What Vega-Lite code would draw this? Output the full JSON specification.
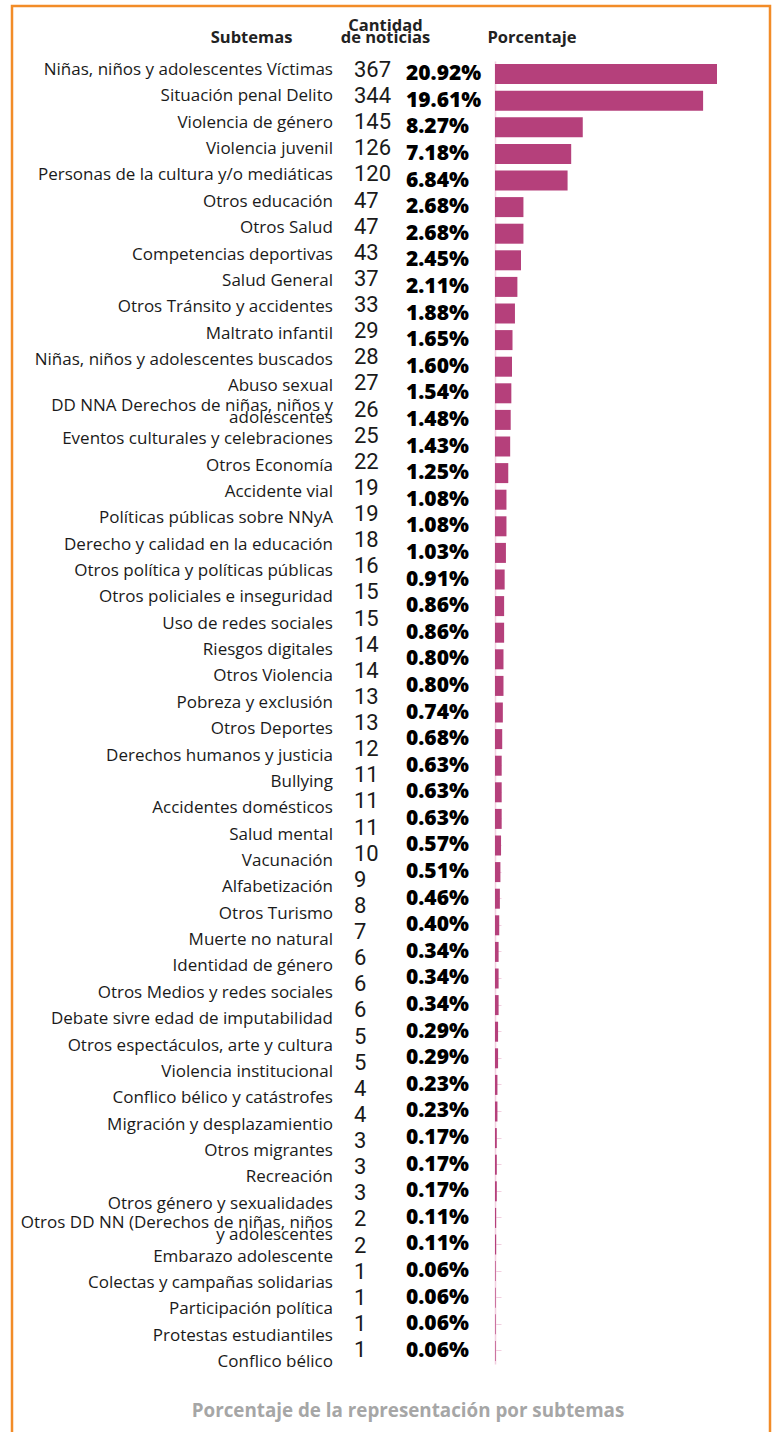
{
  "$schema": "https://vega.github.io/schema/vega-lite/v6.json",
  "autosize": "none",
  "width": 758,
  "height": 1432,
  "padding": {"left": 12, "top": 6, "right": 6, "bottom": -6},
  "background": "white",
  "config": {"view": {"stroke": "#f28c28", "strokeWidth": 2.5}, "font": "Open Sans"},
  "title": {"text": "Porcentaje de la representación por subtemas", "orient": "bottom", "frame": "group", "anchor": "middle", "offset": -27, "dx": 17, "baseline": "middle", "fontSize": 18.8, "fontWeight": "bold", "color": "#a6a6a6", "font": "Open Sans"},
  "datasets": {
    "subtemas": [
      {"orden": 1, "subtema": "Niñas, niños y adolescentes Víctimas", "cantidad": 367},
      {"orden": 2, "subtema": "Situación penal Delito", "cantidad": 344},
      {"orden": 3, "subtema": "Violencia de género", "cantidad": 145},
      {"orden": 4, "subtema": "Violencia juvenil", "cantidad": 126},
      {"orden": 5, "subtema": "Personas de la cultura y/o mediáticas", "cantidad": 120},
      {"orden": 6, "subtema": "Otros educación", "cantidad": 47},
      {"orden": 7, "subtema": "Otros Salud", "cantidad": 47},
      {"orden": 8, "subtema": "Competencias deportivas", "cantidad": 43},
      {"orden": 9, "subtema": "Salud General", "cantidad": 37},
      {"orden": 10, "subtema": "Otros Tránsito y accidentes", "cantidad": 33},
      {"orden": 11, "subtema": "Maltrato infantil", "cantidad": 29},
      {"orden": 12, "subtema": "Niñas, niños y adolescentes buscados", "cantidad": 28},
      {"orden": 13, "subtema": "Abuso sexual", "cantidad": 27},
      {"orden": 14, "subtema": "DD NNA Derechos de niñas, niños y\nadolescentes", "cantidad": 26},
      {"orden": 15, "subtema": "Eventos culturales y celebraciones", "cantidad": 25},
      {"orden": 16, "subtema": "Otros Economía", "cantidad": 22},
      {"orden": 17, "subtema": "Accidente vial", "cantidad": 19},
      {"orden": 18, "subtema": "Políticas públicas sobre NNyA", "cantidad": 19},
      {"orden": 19, "subtema": "Derecho y calidad en la educación", "cantidad": 18},
      {"orden": 20, "subtema": "Otros política y políticas públicas", "cantidad": 16},
      {"orden": 21, "subtema": "Otros policiales e inseguridad", "cantidad": 15},
      {"orden": 22, "subtema": "Uso de redes sociales", "cantidad": 15},
      {"orden": 23, "subtema": "Riesgos digitales", "cantidad": 14},
      {"orden": 24, "subtema": "Otros Violencia", "cantidad": 14},
      {"orden": 25, "subtema": "Pobreza y exclusión", "cantidad": 13},
      {"orden": 26, "subtema": "Otros Deportes", "cantidad": 13},
      {"orden": 27, "subtema": "Derechos humanos y justicia", "cantidad": 12},
      {"orden": 28, "subtema": "Bullying", "cantidad": 11},
      {"orden": 29, "subtema": "Accidentes domésticos", "cantidad": 11},
      {"orden": 30, "subtema": "Salud mental", "cantidad": 11},
      {"orden": 31, "subtema": "Vacunación", "cantidad": 10},
      {"orden": 32, "subtema": "Alfabetización", "cantidad": 9},
      {"orden": 33, "subtema": "Otros Turismo", "cantidad": 8},
      {"orden": 34, "subtema": "Muerte no natural", "cantidad": 7},
      {"orden": 35, "subtema": "Identidad de género", "cantidad": 6},
      {"orden": 36, "subtema": "Otros Medios y redes sociales", "cantidad": 6},
      {"orden": 37, "subtema": "Debate sivre edad de imputabilidad", "cantidad": 6},
      {"orden": 38, "subtema": "Otros espectáculos, arte y cultura", "cantidad": 5},
      {"orden": 39, "subtema": "Violencia institucional", "cantidad": 5},
      {"orden": 40, "subtema": "Conflico bélico y catástrofes", "cantidad": 4},
      {"orden": 41, "subtema": "Migración y desplazamientio", "cantidad": 4},
      {"orden": 42, "subtema": "Otros migrantes", "cantidad": 3},
      {"orden": 43, "subtema": "Recreación", "cantidad": 3},
      {"orden": 44, "subtema": "Otros género y sexualidades", "cantidad": 3},
      {"orden": 45, "subtema": "Otros DD NN (Derechos de niñas, niños\ny adolescentes", "cantidad": 2},
      {"orden": 46, "subtema": "Embarazo adolescente", "cantidad": 2},
      {"orden": 47, "subtema": "Colectas y campañas solidarias", "cantidad": 1},
      {"orden": 48, "subtema": "Participación política", "cantidad": 1},
      {"orden": 49, "subtema": "Protestas estudiantiles", "cantidad": 1},
      {"orden": 50, "subtema": "Conflico bélico", "cantidad": 1}
    ],
    "porcentajes": [
      {"fila": 1, "porcentaje": 20.92}, {"fila": 2, "porcentaje": 19.61}, {"fila": 3, "porcentaje": 8.27},
      {"fila": 4, "porcentaje": 7.18}, {"fila": 5, "porcentaje": 6.84}, {"fila": 6, "porcentaje": 2.68},
      {"fila": 7, "porcentaje": 2.68}, {"fila": 8, "porcentaje": 2.45}, {"fila": 9, "porcentaje": 2.11},
      {"fila": 10, "porcentaje": 1.88}, {"fila": 11, "porcentaje": 1.65}, {"fila": 12, "porcentaje": 1.60},
      {"fila": 13, "porcentaje": 1.54}, {"fila": 14, "porcentaje": 1.48}, {"fila": 15, "porcentaje": 1.43},
      {"fila": 16, "porcentaje": 1.25}, {"fila": 17, "porcentaje": 1.08}, {"fila": 18, "porcentaje": 1.08},
      {"fila": 19, "porcentaje": 1.03}, {"fila": 20, "porcentaje": 0.91}, {"fila": 21, "porcentaje": 0.86},
      {"fila": 22, "porcentaje": 0.86}, {"fila": 23, "porcentaje": 0.80}, {"fila": 24, "porcentaje": 0.80},
      {"fila": 25, "porcentaje": 0.74}, {"fila": 26, "porcentaje": 0.68}, {"fila": 27, "porcentaje": 0.63},
      {"fila": 28, "porcentaje": 0.63}, {"fila": 29, "porcentaje": 0.63}, {"fila": 30, "porcentaje": 0.57},
      {"fila": 31, "porcentaje": 0.51}, {"fila": 32, "porcentaje": 0.46}, {"fila": 33, "porcentaje": 0.40},
      {"fila": 34, "porcentaje": 0.34}, {"fila": 35, "porcentaje": 0.34}, {"fila": 36, "porcentaje": 0.34},
      {"fila": 37, "porcentaje": 0.29}, {"fila": 38, "porcentaje": 0.29}, {"fila": 39, "porcentaje": 0.23},
      {"fila": 40, "porcentaje": 0.23}, {"fila": 41, "porcentaje": 0.17}, {"fila": 42, "porcentaje": 0.17},
      {"fila": 43, "porcentaje": 0.17}, {"fila": 44, "porcentaje": 0.11}, {"fila": 45, "porcentaje": 0.11},
      {"fila": 46, "porcentaje": 0.06}, {"fila": 47, "porcentaje": 0.06}, {"fila": 48, "porcentaje": 0.06},
      {"fila": 49, "porcentaje": 0.06}
    ]
  },
  "resolve": {"scale": {"y": "independent"}},
  "layer": [
    {
      "data": {"name": "subtemas"},
      "mark": {"type": "text", "align": "right", "baseline": "middle", "fontSize": 17, "lineBreak": "\n", "lineHeight": 12, "color": "#1a1a1a", "font": "Open Sans",
        "dy": {"expr": "indexof(datum.subtema, '\\n') >= 0 ? -7 : 0"}},
      "encoding": {
        "y": {"field": "orden", "type": "ordinal", "scale": {"type": "point", "range": [64, 1356], "padding": 0}, "axis": null},
        "x": {"datum": -15.27, "type": "quantitative", "scale": {"domain": [-45.514, 25.914], "nice": false, "zero": false}},
        "text": {"field": "subtema"}
      }
    },
    {
      "data": {"name": "subtemas"},
      "mark": {"type": "text", "align": "left", "baseline": "middle", "fontSize": 22, "font": "Roboto", "color": "#1a1a1a"},
      "encoding": {
        "y": {"field": "orden", "type": "ordinal", "scale": {"type": "point", "range": [64, 1344], "padding": 0}, "axis": null},
        "x": {"datum": -13.29, "type": "quantitative", "scale": {"domain": [-45.514, 25.914], "nice": false, "zero": false}},
        "text": {"field": "cantidad", "type": "quantitative"}
      }
    },
    {
      "data": {"name": "porcentajes"},
      "transform": [{"calculate": "format(datum.porcentaje, '.2f') + '%'", "as": "etiqueta"}],
      "encoding": {
        "y": {"field": "fila", "type": "ordinal", "scale": {"type": "band", "range": [55, 1358], "paddingInner": 0.248, "paddingOuter": 0.1165},
          "axis": {"orient": "left", "offset": -483, "labels": false, "title": null, "grid": false, "domainColor": "#f2cfe0", "tickColor": "#f2cfe0", "tickSize": -6, "domainWidth": 1.5}}
      },
      "layer": [
        {
          "mark": {"type": "bar", "color": "#b5407b"},
          "encoding": {
            "x": {"field": "porcentaje", "type": "quantitative", "scale": {"domain": [-45.514, 25.914], "nice": false, "zero": false},
              "axis": {"orient": "top", "offset": -27, "values": [-22.99, -10.37, 3.44], "labelExpr": "datum.value < -15 ? ['', 'Subtemas'] : datum.value < 0 ? ['Cantidad', 'de noticias'] : ['', 'Porcentaje']", "domain": false, "ticks": false, "tickSize": 0, "labelPadding": 0, "grid": false, "title": null, "labelFont": "Open Sans", "labelFontSize": 16.5, "labelFontWeight": "bold", "labelColor": "#222222", "labelLineHeight": 12, "labelOverlap": false, "labelFlush": false, "labelBound": false, "labelBaseline": "bottom"}},
            "x2": {"datum": 0}
          }
        },
        {
          "mark": {"type": "text", "align": "left", "baseline": "middle", "fontSize": 21, "fontWeight": 800, "color": "#000000", "font": "Open Sans"},
          "encoding": {
            "x": {"datum": -8.39, "type": "quantitative"},
            "text": {"field": "etiqueta"}
          }
        }
      ]
    }
  ]
}
